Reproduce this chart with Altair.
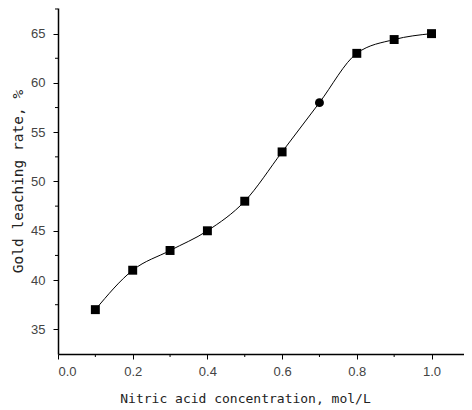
import altair as alt
import pandas as pd

conc = [0.1, 0.2, 0.3, 0.4, 0.5, 0.6, 0.7, 0.8, 0.9, 1.0]
rate = [37.0, 41.0, 43.0, 45.0, 48.0, 53.0, 58.0, 63.0, 64.4, 65.0]
marker = ["square"] * 6 + ["circle"] + ["square"] * 3

x_major = [0.0, 0.2, 0.4, 0.6, 0.8, 1.0]
y_major = [35, 40, 45, 50, 55, 60, 65]
x_minor = [0.1, 0.3, 0.5, 0.7, 0.9]
y_minor = [37.5, 42.5, 47.5, 52.5, 57.5, 62.5, 67.5]

W, H = 406, 346

df = pd.DataFrame({"conc": conc, "rate": rate, "marker": marker})
xs = alt.Scale(domain=[0, 1.087], nice=False, zero=False)
ys = alt.Scale(domain=[32.5, 67.6], nice=False, zero=False)

x_axis = alt.Axis(
    values=x_major, format=".1f", title="Nitric acid concentration, mol/L",
    tickSize=5, labelPadding=6, titleX=187, titleY=44, titleAlign="center",
    titleBaseline="middle", titleFont="DejaVu Sans Mono", titleFontSize=13,
)
y_axis = alt.Axis(
    values=y_major, format="d", title="Gold leaching rate, %",
    tickSize=5, labelPadding=8, titleX=-40, titleY=173, titleAlign="center",
    titleBaseline="middle", titleAngle=-90, titleFont="DejaVu Sans Mono",
    titleFontSize=14.5,
)

line = alt.Chart(df).mark_line(
    interpolate="monotone", color="black", strokeWidth=1
).encode(
    x=alt.X("conc:Q", scale=xs, axis=x_axis),
    y=alt.Y("rate:Q", scale=ys, axis=y_axis),
)

points = alt.Chart(df).mark_point(
    filled=True, color="black", size=80, opacity=1
).encode(
    x=alt.X("conc:Q", scale=xs, axis=x_axis),
    y=alt.Y("rate:Q", scale=ys, axis=y_axis),
    shape=alt.Shape("marker:N", scale=None),
)

ymin = alt.Chart(pd.DataFrame({"v": y_minor})).mark_rule(
    color="black", strokeWidth=1
).encode(
    y=alt.Y("v:Q", scale=ys, axis=y_axis),
    x=alt.value(-3), x2=alt.value(0),
)

xmin = alt.Chart(pd.DataFrame({"v": x_minor})).mark_rule(
    color="black", strokeWidth=1
).encode(
    x=alt.X("v:Q", scale=xs, axis=x_axis),
    y=alt.value(H), y2=alt.value(H + 3),
)

chart = alt.layer(line, points, ymin, xmin).properties(
    width=W, height=H,
    autosize=alt.AutoSizeParams(type="none"),
    padding={"left": 50, "top": 0, "right": 0, "bottom": 56},
).configure_view(stroke=None).configure_axis(
    grid=False, domainColor="black", domainWidth=1.5, tickColor="black",
    tickWidth=1, labelFont="Liberation Sans", labelFontSize=13,
    labelColor="#444", titleColor="#222", titleFontWeight="normal",
)

chart.save("out.html", embed_options={"renderer": "svg", "actions": False})
